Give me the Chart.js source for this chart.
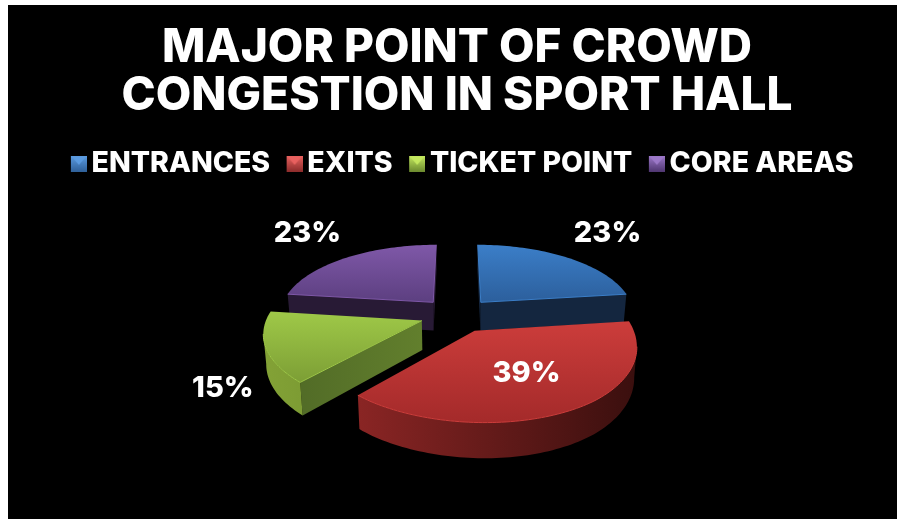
<!DOCTYPE html>
<html>
<head>
<meta charset="utf-8">
<title>Crowd congestion</title>
<script src="https://cdn.jsdelivr.net/npm/chart.js@4/dist/chart.umd.js"></script>
<style>
    html, body { margin: 0; background: #fff; overflow: hidden; }
    #pie { position: absolute; left: 8px; top: 5px; background: #000; }
</style>
</head>
<body>
<canvas id="pie" width="889" height="514"></canvas>
<script>
const titleLines = ['MAJOR POINT OF CROWD', 'CONGESTION IN SPORT HALL'];
const categories = ['ENTRANCES', 'EXITS', 'TICKET POINT', 'CORE AREAS'];
const shares = [23, 39, 15, 23];

// top face, cut face and rim colours for each slice
const topColors = [['#3b7ec8', '#2c5f9c'], ['#cc3d3b', '#a42a2a'], ['#9fc948', '#7c9e35'], ['#7f58a8', '#5c3f80']];
const cutColors = [['#14263f', '#14263f'], ['#5c1b1a', '#5c1b1a'], ['#4d6625', '#627f2d'], ['#281a35', '#281a35']];
const rimColors = [['#1a3050', '#14263f'], ['#8a2524', '#3a0f0e'], ['#83a236', '#6a892c'], ['#33223f', '#281a35']];
const markerColors = [['#5b9be0', '#2f6099'], ['#e8615f', '#8c2c2b'], ['#c4e85f', '#6b8a2f'], ['#9c78c8', '#4f3670']];

const fontFamily = 'Inter';
const drawOrder = [3, 0, 2, 1];
const explode = 0.24;
const perspective = 0.153;
const spreadX = 1.218;  // screen width per outer radius
const spreadY = 0.552;  // screen height per outer radius
const wallDepth = 29;
const labelNudge = [[40, -24], [-41, -38], [-43, 41], [-39, -24]];

// square marker with a lit top; the left part of the image stays empty to pull it towards the text
function bevelMarker(colors) {
    const c = document.createElement('canvas');
    c.width = 20;
    c.height = 16;
    const g = c.getContext('2d');
    g.translate(4, 0);
    const side = g.createLinearGradient(0, 0, 0, 16);
    side.addColorStop(0, colors[0]);
    side.addColorStop(1, colors[1]);
    g.fillStyle = side;
    g.fillRect(0, 0, 16, 16);
    g.fillStyle = colors[0];
    g.beginPath();
    g.moveTo(1, 1);
    g.lineTo(15, 1);
    g.lineTo(8, 9);
    g.fill();
    return c;
}

// Tilted pie with perspective, worked out from the angles of the library's arc elements
const tiltedPie = {
    id: 'tiltedPie',
    afterLayout(chart) {
        chart.legend.left += 8;
        chart.legend.right += 8;
    },
    beforeDatasetsDraw(chart) {
        const ctx = chart.ctx;
        const arcs = chart.getDatasetMeta(0).data;

        drawOrder.forEach(i => drawSlice(ctx, arcs[i], i));

        ctx.save();
        ctx.fillStyle = '#fff';
        ctx.font = '800 29px ' + fontFamily;
        ctx.textAlign = 'center';
        ctx.textBaseline = 'middle';
        arcs.forEach((arc, i) => {
            const mid = (arc.startAngle + arc.endAngle) / 2;
            const rim = projector(arc, mid)(Math.cos(mid), Math.sin(mid));
            ctx.fillText(shares[i] + '%', rim.x + labelNudge[i][0], rim.y + labelNudge[i][1]);
        });
        ctx.restore();
        return false;
    }
};

// Returns a function taking plane coordinates relative to the slice apex, in outer radii
function projector(arc, mid) {
    const ox = Math.cos(mid) * explode;
    const oy = Math.sin(mid) * explode;
    return (u, v, depth = 0) => {
        const w = 1 - perspective * (v + oy);
        const shrink = depth ? 0.985 : 1;
        // the half nearest the viewer sags a little down and to the right
        const near = Math.max(v + oy, 0);
        return {
            x: arc.x + arc.outerRadius * spreadX * (u + ox) / w * shrink + 5 * near * near,
            y: arc.y + (arc.outerRadius * spreadY * (v + oy) + depth) / w + 4 * Math.min(near, 1)
        };
    };
}

function drawSlice(ctx, arc, i) {
    const { startAngle, endAngle } = arc;
    const project = projector(arc, (startAngle + endAngle) / 2);
    const steps = Math.ceil((endAngle - startAngle) * 40);

    // outline clockwise on screen: apex, then along the rim
    const outline = [{ u: 0, v: 0, cut: true }];
    for (let s = 0; s <= steps; s++) {
        const a = startAngle + (endAngle - startAngle) * s / steps;
        outline.push({ u: Math.cos(a), v: Math.sin(a), cut: s === steps });
    }

    const top = outline.map(p => project(p.u, p.v));
    const bottom = outline.map(p => project(p.u, p.v, wallDepth));
    const xs = top.map(p => p.x);
    const ys = top.map(p => p.y);
    const xMin = Math.min(...xs), xMax = Math.max(...xs);

    const rimFill = ctx.createLinearGradient(xMin, 0, xMax, 0);
    rimFill.addColorStop(0, rimColors[i][0]);
    rimFill.addColorStop(1, rimColors[i][1]);
    const cutFill = ctx.createLinearGradient(xMin, 0, xMax, 0);
    cutFill.addColorStop(0, cutColors[i][0]);
    cutFill.addColorStop(1, cutColors[i][1]);

    // only the wall pieces running right to left face the viewer; neighbours of one kind share a path
    const count = outline.length;
    const faces = (k) => top[(k + 1) % count].x < top[k].x;
    for (let k = 0; k < count; k++) {
        if (!faces(k)) continue;
        let end = k;
        while (end + 1 < count && faces(end + 1) && outline[end + 1].cut === outline[k].cut) end++;

        const fill = outline[k].cut ? cutFill : rimFill;
        ctx.fillStyle = fill;
        ctx.beginPath();
        ctx.moveTo(top[k].x, top[k].y);
        for (let j = k; j <= end; j++) {
            const p = top[(j + 1) % count];
            ctx.lineTo(p.x, p.y);
        }
        for (let j = end; j >= k; j--) {
            const p = bottom[(j + 1) % count];
            ctx.lineTo(p.x, p.y);
        }
        ctx.lineTo(bottom[k].x, bottom[k].y);
        ctx.closePath();
        ctx.fill();
        k = end;
    }

    const face = ctx.createLinearGradient(0, Math.min(...ys), 0, Math.max(...ys));
    face.addColorStop(0, topColors[i][0]);
    face.addColorStop(1, topColors[i][1]);
    ctx.fillStyle = face;
    ctx.beginPath();
    top.forEach((p, k) => k ? ctx.lineTo(p.x, p.y) : ctx.moveTo(p.x, p.y));
    ctx.closePath();
    ctx.fill();

    // thin light edge where the top meets the front wall
    ctx.strokeStyle = topColors[i][0];
    ctx.lineWidth = 1;
    ctx.beginPath();
    for (let k = 0; k < count; k++) {
        if (!faces(k)) continue;
        const n = (k + 1) % count;
        ctx.moveTo(top[k].x, top[k].y);
        ctx.lineTo(top[n].x, top[n].y);
    }
    ctx.stroke();
}

new Chart(document.getElementById('pie'), {
    type: 'pie',
    data: {
        labels: categories,
        datasets: [{ data: shares, backgroundColor: topColors.map(c => c[0]), borderWidth: 0 }]
    },
    plugins: [tiltedPie],
    options: {
        responsive: false,
        animation: false,
        events: [],
        layout: { padding: { left: 9, top: 19, bottom: 78 } },
        plugins: {
            tooltip: { enabled: false },
            title: {
                display: true,
                text: titleLines,
                color: '#fff',
                font: { family: fontFamily, size: 46, weight: '800', lineHeight: 1.05 },
                padding: { top: 0, bottom: 7 }
            },
            legend: {
                position: 'top',
                labels: {
                    color: '#fff',
                    font: { family: fontFamily, size: 28.5, weight: '800' },
                    usePointStyle: true,
                    pointStyleWidth: 1,
                    boxHeight: 16,
                    padding: 22,
                    generateLabels: () => categories.map((text, i) => ({
                        text,
                        index: i,
                        hidden: false,
                        lineWidth: 0,
                        fontColor: '#fff',
                        pointStyle: bevelMarker(markerColors[i])
                    }))
                }
            }
        }
    }
});
</script>
</body>
</html>
